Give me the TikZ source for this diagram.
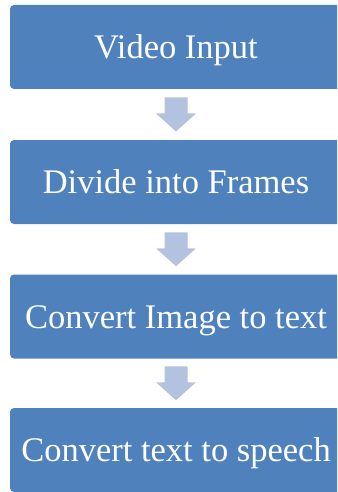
\documentclass[tikz,border=0pt]{standalone}
\usepackage{fontspec}
\setmainfont{Liberation Serif}
\usetikzlibrary{calc}
\definecolor{boxblue}{HTML}{4F81BD}
\definecolor{arrowblue}{HTML}{B3C2DF}
\tikzset{
  stepbox/.style={fill=boxblue, draw=none, rounded corners=4pt, minimum width=332pt, minimum height=84pt,
    text=white, font=\fontsize{34.5}{40}\selectfont, inner sep=0pt, anchor=center,
    text height=23pt, text depth=0pt},
  blockarrow/.style={fill=arrowblue, draw=none}
}
\newcommand{\blockarr}[2]{%
  \fill[blockarrow] ($(#1.south)!0.5!(#2.north)$) ++(-11.5,-17) -- ++(23,0) -- ++(0,16) -- ++(8.5,0)
    -- ++(-20,18) -- ++(-20,-18) -- ++(8.5,0) -- cycle;}
\begin{document}
\begin{tikzpicture}[x=1pt,y=-1pt]
\useasboundingbox (0,0) rectangle (337,492);
\clip (0,0) rectangle (337,492);
\node[stepbox] (a) at (176,47) {Video Input};
\node[stepbox] (b) at (176,182) {Divide into Frames};
\node[stepbox] (c) at (176,316.5) {Convert Image to text};
\node[stepbox] (d) at (176,450) {Convert text to speech};
\blockarr{a}{b}
\blockarr{b}{c}
\blockarr{c}{d}
\end{tikzpicture}
\end{document}
